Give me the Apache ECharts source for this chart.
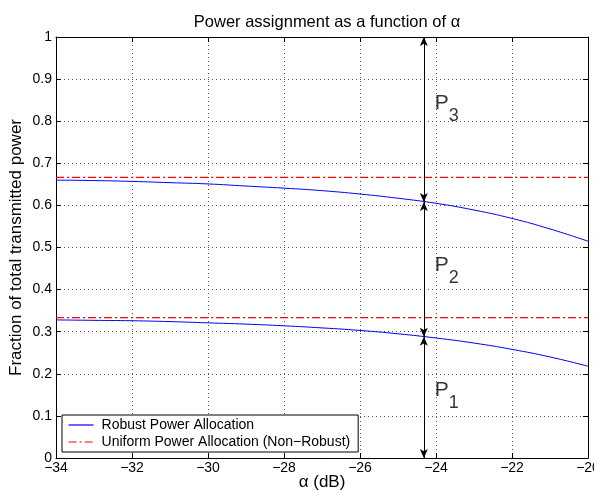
<!DOCTYPE html>
<html>
<head>
<meta charset="utf-8">
<script src="https://cdn.jsdelivr.net/npm/echarts@6/dist/echarts.min.js"></script>
<style>
  html, body { margin: 0; padding: 0; background: #fff; }
  #chart { width: 594px; height: 494px; }
</style>
</head>
<body>
<div id="chart"></div>
<script>
// alpha values (dB) along the x axis
var alphaDb = [-34, -33, -32, -31, -30, -29, -28, -27, -26, -25, -24, -23, -22, -21, -20];
// robust allocation: upper and lower partition curves
var robustUpper = [0.660, 0.659, 0.657, 0.654, 0.651, 0.646, 0.641, 0.635, 0.627, 0.617, 0.605, 0.589, 0.569, 0.544, 0.515];
var robustLower = [0.328, 0.327, 0.326, 0.324, 0.321, 0.318, 0.314, 0.309, 0.303, 0.295, 0.285, 0.273, 0.258, 0.240, 0.218];
// uniform allocation levels
var uniformLevels = [2 / 3, 1 / 3];
// double-headed arrows at one alpha
var arrowAlpha = -24.32;
var arrowLevels = [0, 0.288, 0.608, 1];
// P labels
var pLabels = ['1', '2', '3'];
var pLabelY = [0.1615, 0.458, 0.842];
var pLabelX = -24.03;
var yTicks = ['0', '0.1', '0.2', '0.3', '0.4', '0.5', '0.6', '0.7', '0.8', '0.9', '1'];

var FONT = 'Liberation Sans, Arial, Helvetica, sans-serif';

function pairs(xs, ys) {
    var out = [];
    for (var i = 0; i < xs.length; i++) out.push([xs[i], ys[i]]);
    return out;
}

var gridLine = { show: true, lineStyle: { color: '#555', type: [1, 3], width: 1 } };
var axisLine = { show: true, onZero: false, lineStyle: { color: '#000', width: 1 } };
var tick = { show: true, inside: true, length: 5, lineStyle: { color: '#000' } };
var redDash = [8, 3, 2, 3];

var arrowData = [];
for (var i = 0; i < arrowLevels.length - 1; i++) {
    arrowData.push([{ coord: [arrowAlpha, arrowLevels[i]] }, { coord: [arrowAlpha, arrowLevels[i + 1]] }]);
}

var labelData = [];
for (var j = 0; j < pLabels.length; j++) {
    labelData.push({ value: [pLabelX, pLabelY[j]], sub: pLabels[j] });
}

var chart = echarts.init(document.getElementById('chart'));
chart.setOption({
    animation: false,
    backgroundColor: '#fff',
    title: {
        text: 'Power assignment as a function of α',
        left: 322, top: 9, textAlign: 'center',
        textStyle: { fontFamily: FONT, fontSize: 16.5, fontWeight: 'normal', color: '#000' }
    },
    grid: { left: 56, right: 6, top: 37, bottom: 36, outerBoundsMode: 'none' },
    legend: {
        left: 62, top: 415, orient: 'vertical',
        itemWidth: 25, itemHeight: 12, itemGap: 3,
        padding: [3, 8, 3, 6],
        borderColor: '#000', borderWidth: 1, borderRadius: 0,
        backgroundColor: '#fff',
        itemStyle: { opacity: 0 },
        lineStyle: { width: 1.2 },
        textStyle: { fontFamily: FONT, fontSize: 14, color: '#000', padding: [0, 0, 0, 3] },
        data: ['Robust Power Allocation', 'Uniform Power Allocation (Non\u2212Robust)']
    },
    xAxis: [{
        type: 'value', min: -34, max: -20, interval: 2,
        name: 'α (dB)', nameLocation: 'middle', nameGap: 16, nameMoveOverlap: false,
        nameTextStyle: { fontFamily: FONT, fontSize: 17, color: '#000' },
        axisLine: axisLine, axisTick: tick, splitLine: gridLine,
        axisLabel: { fontFamily: FONT, fontSize: 14, color: '#000', margin: 3,
            formatter: function (v) { return String(v).replace('-', '\u2212'); } }
    }, {
        type: 'value', min: -34, max: -20, interval: 2, position: 'top',
        axisLine: axisLine, axisTick: tick, splitLine: { show: false }, axisLabel: { show: false }
    }],
    yAxis: [{
        type: 'value', min: 0, max: 1, interval: 0.1,
        name: 'Fraction of total transmitted power', nameLocation: 'middle', nameGap: 31, nameMoveOverlap: false,
        nameTextStyle: { fontFamily: FONT, fontSize: 17, color: '#000' },
        axisLine: axisLine, axisTick: tick, splitLine: gridLine,
        axisLabel: { fontFamily: FONT, fontSize: 14, color: '#000', margin: 4,
            formatter: function (v) { return yTicks[Math.round(v * 10)]; } }
    }, {
        type: 'value', min: 0, max: 1, interval: 0.1, position: 'right',
        axisLine: axisLine, axisTick: tick, splitLine: { show: false }, axisLabel: { show: false }
    }],
    series: [{
        name: 'Robust Power Allocation', type: 'line', symbol: 'none', smooth: true,
        color: '#0000ff', lineStyle: { color: '#0000ff', width: 1 },
        data: pairs(alphaDb, robustUpper), z: 3
    }, {
        name: 'Robust Power Allocation', type: 'line', symbol: 'none', smooth: true,
        color: '#0000ff', lineStyle: { color: '#0000ff', width: 1 },
        data: pairs(alphaDb, robustLower), z: 3
    }, {
        name: 'Uniform Power Allocation (Non\u2212Robust)', type: 'line', symbol: 'none',
        color: '#ff0000', lineStyle: { color: '#ff0000', width: 1.3, type: redDash },
        data: [[-34, uniformLevels[0]], [-20, uniformLevels[0]]], z: 2
    }, {
        name: 'Uniform Power Allocation (Non\u2212Robust)', type: 'line', symbol: 'none',
        color: '#ff0000', lineStyle: { color: '#ff0000', width: 1.3, type: redDash },
        data: [[-34, uniformLevels[1]], [-20, uniformLevels[1]]], z: 2,
        markLine: {
            silent: true, symbol: ['arrow', 'arrow'], symbolSize: [6, 9],
            lineStyle: { color: '#000', width: 1, type: 'solid' },
            itemStyle: { color: '#000' },
            label: { show: false },
            data: arrowData
        }
    }, {
        type: 'scatter', symbolSize: 0, silent: true,
        data: labelData,
        label: {
            show: true, position: 'inside', align: 'left', verticalAlign: 'middle',
            fontFamily: FONT, fontSize: 21, color: '#000',
            formatter: 'P'
        }
    }, {
        type: 'scatter', symbolSize: 0, silent: true,
        data: labelData,
        label: {
            show: true, position: 'inside', align: 'left', verticalAlign: 'middle',
            offset: [14, 13],
            fontFamily: FONT, fontSize: 18, color: '#000',
            formatter: function (p) { return p.data.sub; }
        }
    }]
});
</script>
</body>
</html>
